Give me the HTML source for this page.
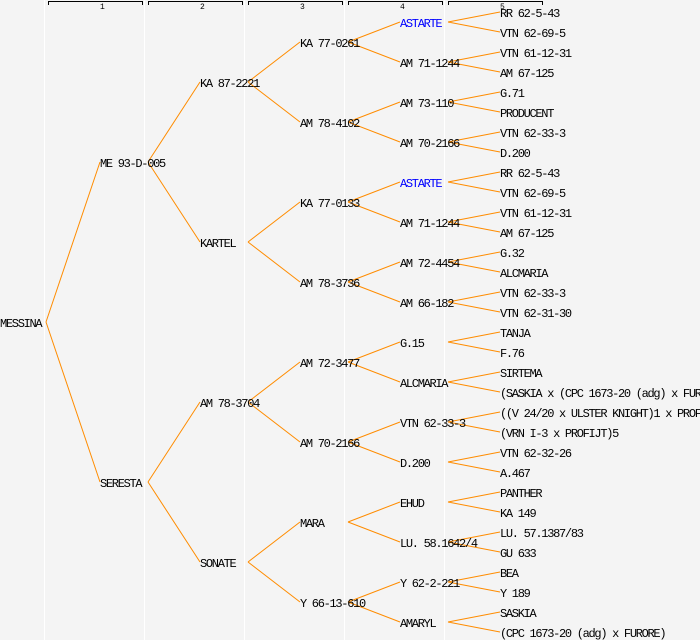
<!DOCTYPE html>
<html><head><meta charset="utf-8"><style>
html,body{margin:0;padding:0;background:#f4f4f4;}
svg{display:block;}
text{font-family:"Liberation Mono","DejaVu Sans Mono",monospace;font-size:12px;letter-spacing:-1.3px;fill:#000;}
text.h{font-size:8px;letter-spacing:0;}
</style></head><body>
<svg width="700" height="640" viewBox="0 0 700 640" xmlns="http://www.w3.org/2000/svg">
<rect width="700" height="640" fill="#f4f4f4"/>
<g stroke="#fff" stroke-width="1">
<line x1="44.5" y1="0" x2="44.5" y2="640"/><line x1="144.5" y1="0" x2="144.5" y2="640"/><line x1="244.5" y1="0" x2="244.5" y2="640"/><line x1="344.5" y1="0" x2="344.5" y2="640"/><line x1="444.5" y1="0" x2="444.5" y2="640"/>
</g>
<g stroke="#000" stroke-width="1" fill="none">
<path d="M48.5 5V1.5H142.5V5"/><path d="M148.5 5V1.5H242.5V5"/><path d="M248.5 5V1.5H342.5V5"/><path d="M348.5 5V1.5H442.5V5"/><path d="M448.5 5V1.5H542.5V5"/>
</g>
<text class="h" x="100" y="9">1</text><text class="h" x="200" y="9">2</text><text class="h" x="300" y="9">3</text><text class="h" x="400" y="9">4</text><text class="h" x="500" y="9">5</text>
<g stroke="#ff8c00" stroke-width="1" fill="none">
<path d="M46 322L100 162M46 322L100 482"/>
<path d="M148 162L200 82M148 162L200 242M148 482L200 402M148 482L200 562"/>
<path d="M248 82L300 42M248 82L300 122M248 242L300 202M248 242L300 282M248 402L300 362M248 402L300 442M248 562L300 522M248 562L300 602"/>
<path d="M348 42L400 22M348 42L400 62M348 122L400 102M348 122L400 142M348 202L400 182M348 202L400 222M348 282L400 262M348 282L400 302M348 362L400 342M348 362L400 382M348 442L400 422M348 442L400 462M348 522L400 502M348 522L400 542M348 602L400 582M348 602L400 622"/>
<path d="M448 22L500 12M448 22L500 32M448 62L500 52M448 62L500 72M448 102L500 92M448 102L500 112M448 142L500 132M448 142L500 152M448 182L500 172M448 182L500 192M448 222L500 212M448 222L500 232M448 262L500 252M448 262L500 272M448 302L500 292M448 302L500 312M448 342L500 332M448 342L500 352M448 382L500 372M448 382L500 392M448 422L500 412M448 422L500 432M448 462L500 452M448 462L500 472M448 502L500 492M448 502L500 512M448 542L500 532M448 542L500 552M448 582L500 572M448 582L500 592M448 622L500 612M448 622L500 632"/>
</g>
<text x="0" y="327">MESSINA</text>
<text x="100" y="167">ME 93-D-005</text><text x="100" y="487">SERESTA</text>
<text x="200" y="87">KA 87-2221</text><text x="200" y="247">KARTEL</text><text x="200" y="407">AM 78-3704</text><text x="200" y="567">SONATE</text>
<text x="300" y="47">KA 77-0261</text><text x="300" y="127">AM 78-4102</text><text x="300" y="207">KA 77-0133</text><text x="300" y="287">AM 78-3736</text><text x="300" y="367">AM 72-3477</text><text x="300" y="447">AM 70-2166</text><text x="300" y="527">MARA</text><text x="300" y="607">Y 66-13-610</text>
<text x="400" y="27" style="fill:#0000ff">ASTARTE</text><text x="400" y="67">AM 71-1244</text><text x="400" y="107">AM 73-110</text><text x="400" y="147">AM 70-2166</text><text x="400" y="187" style="fill:#0000ff">ASTARTE</text><text x="400" y="227">AM 71-1244</text><text x="400" y="267">AM 72-4454</text><text x="400" y="307">AM 66-182</text><text x="400" y="347">G.15</text><text x="400" y="387">ALCMARIA</text><text x="400" y="427">VTN 62-33-3</text><text x="400" y="467">D.200</text><text x="400" y="507">EHUD</text><text x="400" y="547">LU. 58.1642/4</text><text x="400" y="587">Y 62-2-221</text><text x="400" y="627">AMARYL</text>
<text x="500" y="17">RR 62-5-43</text><text x="500" y="37">VTN 62-69-5</text><text x="500" y="57">VTN 61-12-31</text><text x="500" y="77">AM 67-125</text><text x="500" y="97">G.71</text><text x="500" y="117">PRODUCENT</text><text x="500" y="137">VTN 62-33-3</text><text x="500" y="157">D.200</text><text x="500" y="177">RR 62-5-43</text><text x="500" y="197">VTN 62-69-5</text><text x="500" y="217">VTN 61-12-31</text><text x="500" y="237">AM 67-125</text><text x="500" y="257">G.32</text><text x="500" y="277">ALCMARIA</text><text x="500" y="297">VTN 62-33-3</text><text x="500" y="317">VTN 62-31-30</text><text x="500" y="337">TANJA</text><text x="500" y="357">F.76</text><text x="500" y="377">SIRTEMA</text><text x="500" y="397">(SASKIA x (CPC 1673-20 (adg) x FURORE))</text><text x="500" y="417">((V 24/20 x ULSTER KNIGHT)1 x PROFIJT)</text><text x="500" y="437">(VRN I-3 x PROFIJT)5</text><text x="500" y="457">VTN 62-32-26</text><text x="500" y="477">A.467</text><text x="500" y="497">PANTHER</text><text x="500" y="517">KA 149</text><text x="500" y="537">LU. 57.1387/83</text><text x="500" y="557">GU 633</text><text x="500" y="577">BEA</text><text x="500" y="597">Y 189</text><text x="500" y="617">SASKIA</text><text x="500" y="637">(CPC 1673-20 (adg) x FURORE)</text>
</svg>
</body></html>
